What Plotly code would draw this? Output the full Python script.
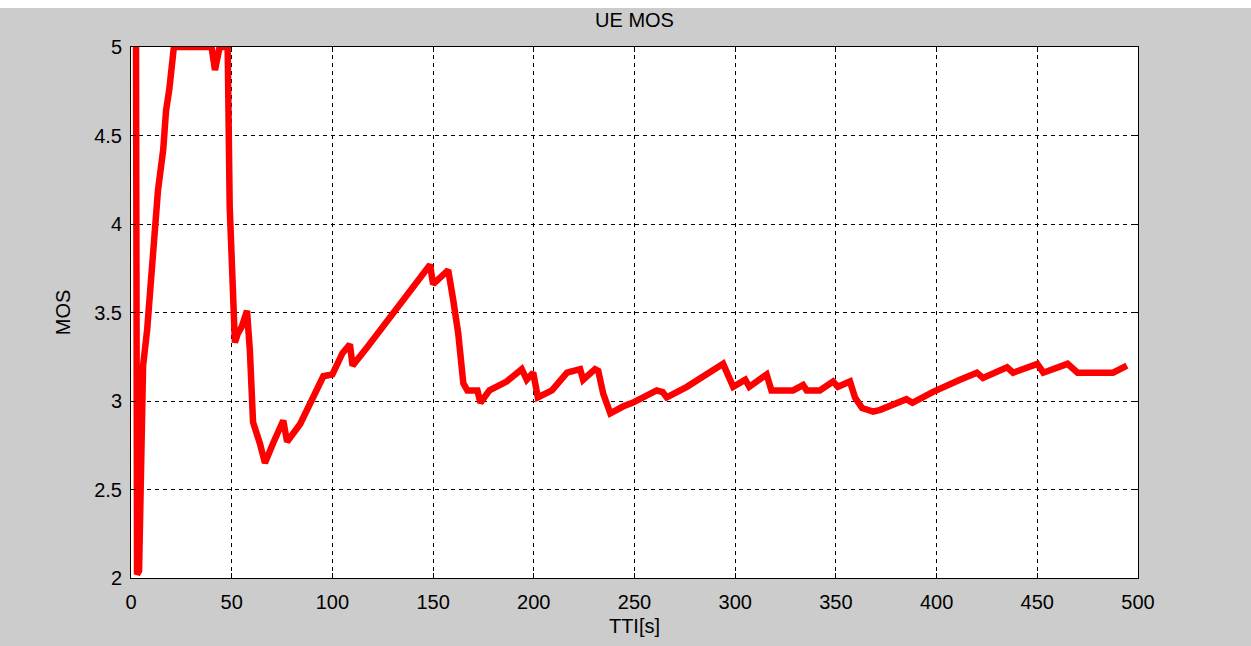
import plotly.graph_objects as go

# UE MOS over TTI
tti = [2.5, 3, 4, 4.8, 5.5, 6, 8, 9.4, 12, 13.4, 16, 17.4, 19, 20.4, 21.3,
       40, 41.7, 44, 48, 49, 50.6, 51.6, 53, 55, 57.6, 59, 60.6, 63, 64, 66.5,
       68, 70.5, 75.6, 77.5, 84, 90.5, 95.5, 100, 105, 108.7, 110, 117,
       148.5, 150, 157.5, 160, 162.5, 165, 167, 172, 173.5, 178, 186.5, 194,
       196.5, 199.7, 202, 209, 216.5, 223, 224.5, 230.4, 232, 234.5, 238,
       244.5, 249, 261, 264, 266, 276, 294, 296.5, 299, 305, 307, 315.6, 318,
       328.7, 333.7, 335.5, 342, 348.6, 351, 357, 359.5, 363, 368.5, 372,
       378.5, 385, 388, 398, 411.6, 420, 423, 435, 438, 450, 453, 465, 470,
       487.6, 494.5]
mos = [5.0, 2.02, 2.04, 2.4, 3.0, 3.2, 3.4, 3.61, 4.0, 4.19, 4.42, 4.64, 4.76, 4.93, 5.0,
       5.0, 4.87, 5.0, 5.0, 4.1, 3.6, 3.33, 3.38, 3.42, 3.51, 3.29, 2.88, 2.80, 2.76, 2.65,
       2.70, 2.76, 2.89, 2.77, 2.87, 3.02, 3.14, 3.15, 3.27, 3.32, 3.20, 3.30,
       3.77, 3.66, 3.74, 3.57, 3.38, 3.10, 3.06, 3.06, 2.99, 3.06, 3.11, 3.18,
       3.12, 3.16, 3.02, 3.06, 3.16, 3.18, 3.12, 3.18, 3.17, 3.04, 2.93,
       2.97, 2.99, 3.06, 3.05, 3.02, 3.08, 3.21, 3.14, 3.08, 3.12, 3.08, 3.15, 3.06,
       3.06, 3.09, 3.06, 3.06, 3.11, 3.08, 3.11, 3.02, 2.96, 2.94, 2.95,
       2.98, 3.01, 2.99, 3.05, 3.12, 3.16, 3.13, 3.19, 3.16, 3.21, 3.16, 3.21, 3.16,
       3.16, 3.20]

x_ticks = [0, 50, 100, 150, 200, 250, 300, 350, 400, 450, 500]
y_ticks = [2, 2.5, 3, 3.5, 4, 4.5, 5]
y_tick_text = ["2", "2.5", "3", "3.5", "4", "4.5", "5"]

FONT = "Liberation Sans"
GRAY = "#cccccc"

fig = go.Figure()
fig.add_trace(go.Scatter(
    x=tti, y=mos, mode="lines",
    line=dict(color="#ff0000", width=6.5),
    showlegend=False,
))

axis_common = dict(
    showline=True, linecolor="black", linewidth=1, mirror="ticks",
    ticks="inside", ticklen=5, tickwidth=1, tickcolor="black",
    showgrid=True, gridcolor="black", gridwidth=1, griddash="4px,4px",
    zeroline=False,
    tickfont=dict(family=FONT, size=20, color="black"),
)

fig.update_xaxes(
    range=[0, 500], tickvals=x_ticks, ticktext=[str(v) for v in x_ticks],
    title=dict(text="TTI[s]", font=dict(family=FONT, size=20, color="black"), standoff=6),
    ticklabelstandoff=6,
    **axis_common,
)
fig.update_yaxes(
    range=[2, 5], tickvals=y_ticks, ticktext=y_tick_text,
    title=dict(text="MOS", font=dict(family=FONT, size=20, color="black"), standoff=18),
    ticklabelstandoff=4,
    **axis_common,
)

fig.update_layout(
    width=1251, height=646,
    margin=dict(l=131, r=113, t=47, b=68),
    paper_bgcolor=GRAY, plot_bgcolor="white",
    title=dict(text="UE MOS", x=(131 + 1138) / 2 / 1251, xanchor="center",
               y=1 - 20 / 646, yanchor="middle", yref="container",
               font=dict(family=FONT, size=20, color="black")),
    shapes=[
        # thin white band across the top of the window
        dict(type="rect", xref="paper", yref="paper",
             x0=-131 / 1007, x1=(1251 - 131) / 1007,
             y0=(578 - 8) / 531, y1=578 / 531,
             fillcolor="white", line=dict(width=0), layer="below"),
    ],
)

fig.write_html("out.html")
